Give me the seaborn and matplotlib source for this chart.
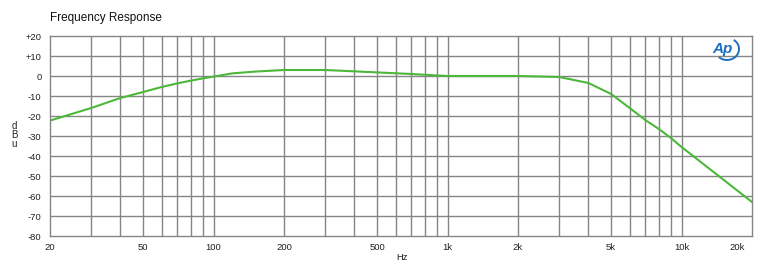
import numpy as np
import pandas as pd
import matplotlib
matplotlib.use("Agg")
import matplotlib.pyplot as plt
import matplotlib.transforms as mtransforms
from matplotlib.patches import Arc
from matplotlib.ticker import FixedLocator, NullFormatter, MultipleLocator
import seaborn as sns

# ---- data ----
freq_hz = [20, 30, 40, 50, 60, 70, 80, 90, 100, 120, 150, 200, 300, 500, 700,
           1000, 2000, 3000, 4000, 5000, 6000, 7000, 8000, 9000, 10000, 20000]
level_dbu = [-22.3, -16.0, -11.0, -8.0, -5.5, -3.7, -2.3, -1.2, -0.3, 1.3, 2.2,
             3.0, 3.0, 1.8, 1.0, 0.0, 0.0, -0.5, -3.5, -9.0, -16.0, -22.0,
             -26.5, -31.0, -35.5, -63.0]

x_tick_values = [20, 50, 100, 200, 500, 1000, 2000, 5000, 10000, 20000]
x_tick_labels = ["20", "50", "100", "200", "500", "1k", "2k", "5k", "10k", "20k"]
y_tick_values = [20, 10, 0, -10, -20, -30, -40, -50, -60, -70, -80]
y_tick_labels = ["+20", "+10", "0", "-10", "-20", "-30", "-40", "-50", "-60", "-70", "-80"]

title_text = "Frequency Response"
x_label = "Hz"
y_label_letters = ["d", "B", "u"]

df = pd.DataFrame({"Hz": freq_hz, "dBu": level_dbu})

sns.set_style("white")
plt.rcParams["font.family"] = ["Liberation Sans", "DejaVu Sans"]

fig = plt.figure(figsize=(7.68, 2.78), dpi=100)
ax = fig.add_axes([50 / 768, 1 - 236 / 278, (752 - 50) / 768, (236 - 36) / 278])

sns.lineplot(data=df, x="Hz", y="dBu", ax=ax, color="#4cb83a", linewidth=1.5)

ax.set_xscale("log")
ax.set_xlim(20, 20000)
ax.set_ylim(-80, 20)

grid_freqs = [f for dec in (10, 100, 1000, 10000) for f in
              [dec * k for k in range(1, 10)] if 20 < f < 20000]
ax.xaxis.set_major_locator(FixedLocator(x_tick_values))
ax.set_xticklabels(x_tick_labels)
ax.xaxis.set_minor_locator(FixedLocator(grid_freqs))
ax.xaxis.set_minor_formatter(NullFormatter())
for f in grid_freqs:
    ax.axvline(f, color="#858585", linewidth=1.0, zorder=1)

ax.set_yticks(y_tick_values)
ax.set_yticklabels(y_tick_labels)
ax.yaxis.set_minor_locator(MultipleLocator(2))
for v in y_tick_values[1:-1]:
    ax.axhline(v, color="#858585", linewidth=1.0, zorder=1)

ax.tick_params(axis="x", which="both", length=0, labelsize=6.8, pad=5, colors="#222222")
ax.tick_params(axis="y", which="major", direction="in", length=4, width=0.6,
               color="#858585", labelsize=6.8, pad=6, labelcolor="#222222")
ax.tick_params(axis="y", which="minor", direction="in", length=3, width=0.6, color="#858585")

# last x label sits slightly inside the right edge
last = ax.get_xticklabels()[-1]
last.set_transform(last.get_transform() +
                   mtransforms.ScaledTranslation(-15 / 100, 0, fig.dpi_scale_trans))

for s in ax.spines.values():
    s.set_color("#858585")
    s.set_linewidth(1.0)

ax.set_xlabel("")
ax.set_ylabel("")
fig.text(402 / 768, 1 - 258 / 278, x_label, ha="center", va="center", fontsize=6.8, color="#222222")
for i, ch in enumerate(y_label_letters):
    fig.text(14 / 768, 1 - (126 + 9 * i) / 278, ch, ha="center", va="center",
             fontsize=7, color="#222222")

fig.text(50 / 768, 1 - 18 / 278, title_text, ha="left", va="center", fontsize=8.5, color="#111111")

# Ap logo
fig.text(723 / 768, 1 - 49 / 278, "Ap", ha="center", va="center", fontsize=11,
         fontstyle="italic", fontweight="bold", color="#1f6fc0")
arc = Arc((727 / 768, 1 - 49 / 278), 24 / 768, 22 / 278, theta1=-110, theta2=75,
          transform=fig.transFigure, color="#1f6fc0", linewidth=1.4)
fig.add_artist(arc)

fig.savefig("out.png", dpi=100, facecolor="white")
